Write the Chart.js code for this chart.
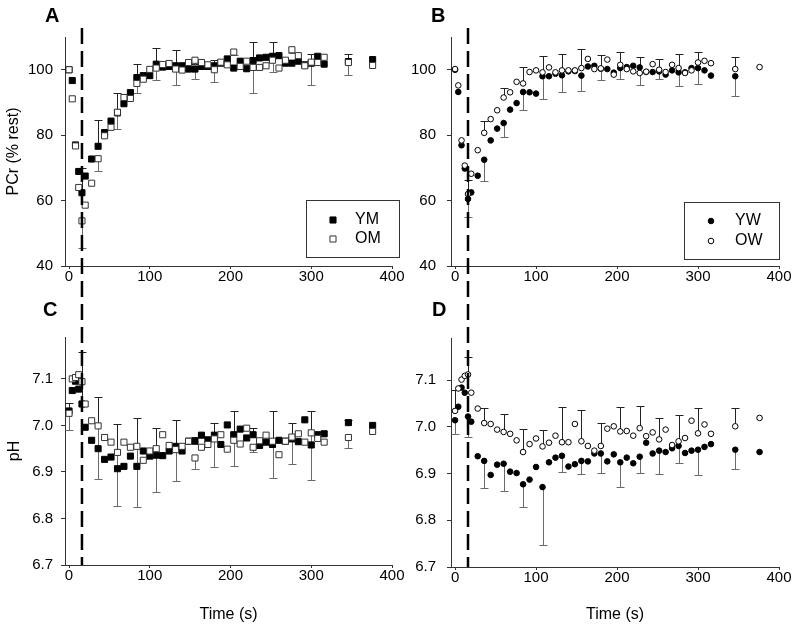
<!DOCTYPE html>
<html>
<head>
<meta charset="utf-8">
<script src="https://cdn.jsdelivr.net/npm/chart.js@4.4.1/dist/chart.umd.min.js"></script>
<style>
    html, body { margin: 0; padding: 0; background: #fff; }
    #fig { position: relative; width: 794px; height: 630px; overflow: hidden; }
    #fig canvas { position: absolute; }
    .tag { position: absolute; font: bold 20px "Liberation Sans", Arial, sans-serif; line-height: 20px; color: #000; }
</style>
</head>
<body>
<div id="fig">
    <canvas id="chartA" width="410" height="300" style="left:0;top:0"></canvas>
    <canvas id="chartB" width="394" height="300" style="left:400px;top:0"></canvas>
    <canvas id="chartC" width="410" height="330" style="left:0;top:300px"></canvas>
    <canvas id="chartD" width="394" height="330" style="left:400px;top:300px"></canvas>
    <div class="tag" style="left:45px;top:5px">A</div>
    <div class="tag" style="left:431px;top:5px">B</div>
    <div class="tag" style="left:43px;top:299px">C</div>
    <div class="tag" style="left:432px;top:299px">D</div>
</div>
<script>
/* ========== DATA ========== */
const times = [0, 4, 8, 12, 16, 20, 28, 36, 44, 52, 60, 68, 76, 84, 92, 100, 108, 116, 124, 132, 140, 148, 156, 164,
    172, 180, 188, 196, 204, 212, 220, 228, 236, 244, 252, 260, 268, 276, 284, 292, 300, 308, 316, 346, 376];
const xTicks = [0, 100, 200, 300, 400];
const pcrTicks = [40, 60, 80, 100];
const phTicks = [6.7, 6.8, 6.9, 7.0, 7.1];
const exerciseEnd = 16;   // end of exercise (s), dashed line

// times that carry an SD bar
const errTimes = [0, 16, 36, 60, 84, 108, 132, 156, 180, 204, 228, 252, 276, 300, 346];

// A: PCr, men
const pcrYM = [100, 96.7, 77, 68.9, 62.4, 67.5, 72.7, 76.6, 80.8, 84.3, 86.8, 89.6, 93.0, 97.6, 98.2, 98.2, 101.7, 100.8,
    101.0, 101.2, 101.2, 100.2, 100.2, 101.0, 101.0, 101.2, 102.0, 103.3, 100.5, 102.6, 100.3, 102.8, 103.6, 103.8,
    104.1, 104.3, 102.0, 102.0, 102.6, 101.5, 102.0, 104.1, 101.7, 102.5, 103.1];
const pcrOM = [100, 91.1, 76.7, 64.0, 53.8, 58.6, 65.3, 72.8, 79.8, 82.4, 87.0, 91.5, 91.2, 95.8, 97.1, 100.1, 100.5, 101.6,
    101.9, 100.2, 99.9, 102.2, 102.9, 102.2, 101.5, 100.0, 102.3, 101.5, 105.4, 101.0, 102.6, 100.7, 100.7, 101.2,
    102.9, 100.5, 102.9, 106.1, 104.3, 101.2, 102.3, 102.2, 103.8, 102.2, 101.3];
const pcrYMErr = [null, 7.5, 8, 6, 4, 4.9, 4.9, 1.5, 1.9, 1, 5.6, 4.3, 1, 2.9, 2.4];
const pcrOMErr = [null, 8.4, 3.8, 5, 2.9, 3.6, 4.8, 5.7, 3.9, 1, 7.8, 3.5, 1, 6.9, 3.7];

// B: PCr, women
const pcrYW = [100, 93.2, 76.9, 69.8, 60.5, 62.5, 67.6, 72.5, 78.4, 82.0, 83.7, 87.8, 89.8, 93.2, 93.1, 92.7, 98.0, 98.0,
    98.8, 98.3, 99.5, 99.6, 98.2, 101.0, 101.2, 100.3, 100.2, 99.1, 100.5, 100.8, 101.2, 100.7, 99.3, 99.3, 99.5,
    98.5, 99.8, 99.2, 99.2, 100.5, 100.5, 99.8, 98.2, 98.0, null];
const pcrOW = [100.2, 95.2, 78.4, 70.7, 62.0, 68.2, 75.4, 80.7, 84.9, 87.6, 91.5, 93.1, 96.3, 95.8, 99.3, 99.8, 99.2, 100.7,
    99.2, 99.8, 99.8, 99.8, 100.5, 103.3, 100.2, 100.4, 103.1, 98.5, 101.5, 100.2, 99.5, 99.0, 99.4, 101.7, 100.0,
    99.3, 101.5, 100.5, 99.0, 99.8, 102.2, 102.7, 102.0, 100.2, 100.8];
const pcrYWErr = [null, 5.4, 6.4, 4.4, 5.4, 7, 5, 4.6, 3.3, 3.3, 5.5, 2.3, 4.1, 4.8, 6.1];
const pcrOWErr = [null, 4.3, 3.6, 2.8, 4.9, 4.9, 5.1, 5.9, 4, 3.8, 4.8, 3.4, 4.3, 3.2, 3.7];

// C: pH, men
const phYM = [7.031, 7.075, 7.095, 7.078, 7.046, 6.996, 6.968, 6.950, 6.927, 6.932, 6.907, 6.912, 6.934, 6.912, 6.945,
    6.934, 6.936, 6.935, 6.945, 6.955, 6.945, 6.966, 6.966, 6.979, 6.969, 6.979, 6.959, 7.001, 6.980, 6.992, 6.973,
    6.980, 6.957, 6.964, 6.959, 6.968, 6.966, 6.971, 6.965, 7.012, 6.958, 6.980, 6.982, 7.006, 7.000];
const phOM = [7.026, 7.100, 7.103, 7.109, 7.094, 7.046, 7.010, 6.999, 6.974, 6.964, 6.942, 6.964, 6.953, 6.955, 6.925,
    6.945, 6.950, 6.980, 6.957, 6.948, 6.955, 6.966, 6.930, 6.953, 6.959, 6.971, 6.980, 6.949, 6.968, 6.960, 6.994,
    6.953, 6.967, 6.979, 6.966, 6.937, 6.966, 6.975, 6.982, 6.964, 6.984, 6.972, 6.964, 6.974, 6.987];
const phYMErr = [0.018, 0.112, 0.11, 0.096, 0.104, 0.058, 0.056, 0.01, 0.027, 0.052, 0.015, 0.073, 0.035, 0.072, 0.005];
const phOMErr = [0.035, null, 0.114, 0.115, 0.13, 0.094, 0.068, 0.023, 0.06, 0.055, 0.01, 0.078, 0.057, 0.102, 0.023];

// D: pH, women
const phYW = [7.014, 7.043, 7.084, 7.073, 7.022, 7.011, 6.937, 6.927, 6.897, 6.919, 6.921, 6.904, 6.901, 6.877, 6.887,
    6.914, 6.871, 6.924, 6.934, 6.938, 6.915, 6.920, 6.927, 6.926, 6.943, 6.943, 6.926, 6.941, 6.924, 6.934, 6.922,
    6.936, 6.966, 6.943, 6.949, 6.946, 6.954, 6.959, 6.944, 6.949, 6.951, 6.957, 6.963, 6.951, 6.946];
const phOW = [7.034, 7.082, 7.101, 7.109, 7.112, 7.073, 7.039, 7.008, 7.006, 6.994, 6.989, 6.985, 6.971, 6.946, 6.963,
    6.975, 6.958, 6.966, 6.981, 6.967, 6.967, 7.006, 6.969, 6.959, 6.949, 6.959, 6.996, 7.001, 6.990, 6.991, 6.981,
    6.997, 6.980, 6.988, 6.973, 6.994, 6.961, 6.969, 6.976, 7.013, 6.986, 7.005, 6.985, 7.001, 7.019];
const phYWErr = [0.030, 0.043, 0.057, 0.059, 0.048, 0.124, 0.035, 0.029, 0.041, 0.052, 0.034, 0.049, 0.036, 0.054, 0.042];
const phOWErr = [0.045, 0.038, 0.033, 0.039, 0.05, 0.035, 0.075, 0.067, 0.05, 0.052, 0.047, 0.046, 0.057, 0.054, 0.039];

const FONT = "'Liberation Sans', Arial, sans-serif";
Chart.defaults.font.family = FONT;
Chart.defaults.color = "#000";

/* ========== PLUGINS ========== */
// one-sided SD bars, drawn under the markers
const errorBars = {
    id: "errorBars",
    beforeDatasetsDraw(chart) {
        const { ctx, scales: { x, y } } = chart;
        ctx.save();
        ctx.lineWidth = 1;
        chart.data.datasets.forEach(ds => {
            if (!ds.err) return;
            ctx.strokeStyle = ds.errDir > 0 ? "#222" : "#6a6a6a";
            errTimes.forEach((t, k) => {
                const e = ds.err[k];
                const i = times.indexOf(t);
                const v = ds.data[i].y;
                if (e == null || v == null) return;
                const px = Math.round(x.getPixelForValue(t)) + 0.5;
                const y0 = y.getPixelForValue(v);
                const y1 = Math.round(y.getPixelForValue(v + ds.errDir * e)) + 0.5;
                ctx.beginPath();
                ctx.moveTo(px, y0);
                ctx.lineTo(px, y1);
                ctx.moveTo(px - 4, y1);
                ctx.lineTo(px + 4, y1);
                ctx.stroke();
            });
        });
        ctx.restore();
    }
};

// dashed line at end of exercise, runs through both rows
const exerciseLine = {
    id: "exerciseLine",
    afterDatasetsDraw(chart, args, opts) {
        const { ctx, chartArea } = chart;
        const px = chart.scales.x.getPixelForValue(exerciseEnd);
        ctx.save();
        ctx.strokeStyle = "#000";
        ctx.lineWidth = 2.5;
        ctx.setLineDash([16, 7]);
        ctx.lineDashOffset = opts.dashOffset || 0;
        ctx.beginPath();
        ctx.moveTo(px, opts.from);
        ctx.lineTo(px, opts.toArea ? chartArea.bottom : chart.height);
        ctx.stroke();
        ctx.restore();
    }
};

function drawMarker(ctx, style, r, x, y) {
    ctx.beginPath();
    if (style === "rect") {
        const s = r * Math.SQRT1_2;
        ctx.rect(x - s, y - s, 2 * s, 2 * s);
    } else {
        ctx.arc(x, y, r, 0, Math.PI * 2);
    }
    ctx.fill();
    ctx.stroke();
}

// boxed legend inside the plot
const boxLegend = {
    id: "boxLegend",
    afterDraw(chart, args, opts) {
        if (!opts.box) return;
        const { ctx } = chart;
        const [bx, by, bw, bh] = opts.box;
        ctx.save();
        ctx.strokeStyle = "#333";
        ctx.lineWidth = 1;
        ctx.strokeRect(bx + 0.5, by + 0.5, bw, bh);
        ctx.font = "16px " + FONT;
        ctx.textBaseline = "middle";
        chart.data.datasets.forEach((ds, i) => {
            const ry = opts.rows[i];
            ctx.fillStyle = ds.backgroundColor;
            ctx.strokeStyle = ds.borderColor;
            ctx.lineWidth = ds.borderWidth;
            drawMarker(ctx, ds.pointStyle, ds.pointRadius, opts.markerX, ry);
            ctx.fillStyle = "#000";
            ctx.fillText(ds.label, opts.textX, ry);
        });
        ctx.restore();
    }
};

/* ========== HELPERS ========== */
function pts(vals) {
    return times.map((t, i) => ({ x: t, y: vals[i] }));
}

function squares(label, vals, err, filled) {
    return {
        label, data: pts(vals), err, errDir: filled ? 1 : -1,
        pointStyle: "rect", pointRadius: 4.3, borderWidth: 1,
        backgroundColor: filled ? "#000" : "#fff",
        borderColor: filled ? "#000" : "#333",
        order: filled ? 2 : 1
    };
}

function circles(label, vals, err, filled) {
    return {
        label, data: pts(vals), err, errDir: filled ? -1 : 1,
        pointStyle: "circle", pointRadius: 2.8, borderWidth: 1,
        backgroundColor: filled ? "#000" : "#fff",
        borderColor: "#000",
        order: filled ? 2 : 1
    };
}

function makePanel(id, cfg) {
    return new Chart(document.getElementById(id), {
        type: "scatter",
        data: { datasets: cfg.datasets },
        options: {
            responsive: false,
            animation: false,
            devicePixelRatio: 1,
            showLine: false,
            layout: { padding: { top: cfg.top, right: cfg.right, left: 0, bottom: 0 } },
            plugins: {
                legend: { display: false },
                tooltip: { enabled: false },
                boxLegend: cfg.legend || {},
                exerciseLine: cfg.line
            },
            scales: {
                x: {
                    type: "linear", min: -5, max: 400,
                    afterBuildTicks: s => { s.ticks = xTicks.map(v => ({ value: v })); },
                    afterFit: s => { s.height = cfg.xHeight; },
                    grid: { drawOnChartArea: false, tickLength: 3, color: "#333" },
                    border: { color: "#333" },
                    ticks: { padding: -1, maxRotation: 0, font: { size: 15 } },
                    title: {
                        display: !!cfg.xTitle, text: cfg.xTitle || "",
                        font: { size: 16 }, padding: { top: 0, bottom: 6 }
                    }
                },
                y: {
                    type: "linear", min: cfg.yMin, max: cfg.yMax,
                    afterBuildTicks: s => { s.ticks = cfg.yTicks.map(v => ({ value: v })); },
                    afterFit: s => { s.width = cfg.yWidth; },
                    grid: { drawOnChartArea: false, tickLength: 4, color: "#333" },
                    border: { color: "#333" },
                    ticks: { padding: cfg.yPad, font: { size: 15 }, callback: cfg.yFmt },
                    title: {
                        display: !!cfg.yTitle, text: cfg.yTitle || "",
                        font: { size: 16 }, padding: { top: cfg.yTitlePad || 0, bottom: 0 }
                    }
                }
            }
        },
        plugins: [errorBars, exerciseLine, boxLegend]
    });
}

const fmtInt = v => String(v);
const fmtPh = v => Number(v).toFixed(1);

/* ========== PANELS ========== */
makePanel("chartA", {
    datasets: [squares("YM", pcrYM, pcrYMErr, true), squares("OM", pcrOM, pcrOMErr, false)],
    top: 37, right: 18, xHeight: 34, yWidth: 65, yPad: 8,
    yMin: 40, yMax: 110, yTicks: pcrTicks, yFmt: fmtInt,
    yTitle: "PCr (% rest)", yTitlePad: 4,
    legend: { box: [306, 200, 93, 57], rows: [220, 239], markerX: 333, textX: 355 },
    line: { from: 28 }
});

makePanel("chartB", {
    datasets: [circles("YW", pcrYW, pcrYWErr, true), circles("OW", pcrOW, pcrOWErr, false)],
    top: 37, right: 15, xHeight: 34, yWidth: 51, yPad: 11,
    yMin: 40, yMax: 110, yTicks: pcrTicks, yFmt: fmtInt,
    legend: { box: [284, 202, 95, 57], rows: [221, 241], markerX: 311, textX: 335 },
    line: { from: 28 }
});

makePanel("chartC", {
    datasets: [squares("YM", phYM, phYMErr, true), squares("OM", phOM, phOMErr, false)],
    top: 37, right: 18, xHeight: 65, yWidth: 65, yPad: 8,
    yMin: 6.7, yMax: 7.19, yTicks: phTicks, yFmt: fmtPh,
    yTitle: "pH", yTitlePad: 5, xTitle: "Time (s)",
    line: { from: 0, toArea: true, dashOffset: 19 }
});

makePanel("chartD", {
    datasets: [circles("YW", phYW, phYWErr, true), circles("OW", phOW, phOWErr, false)],
    top: 38, right: 15, xHeight: 63, yWidth: 51, yPad: 11,
    yMin: 6.7, yMax: 7.19, yTicks: phTicks, yFmt: fmtPh,
    xTitle: "Time (s)",
    line: { from: 0, toArea: true, dashOffset: 19 }
});
</script>
</body>
</html>
